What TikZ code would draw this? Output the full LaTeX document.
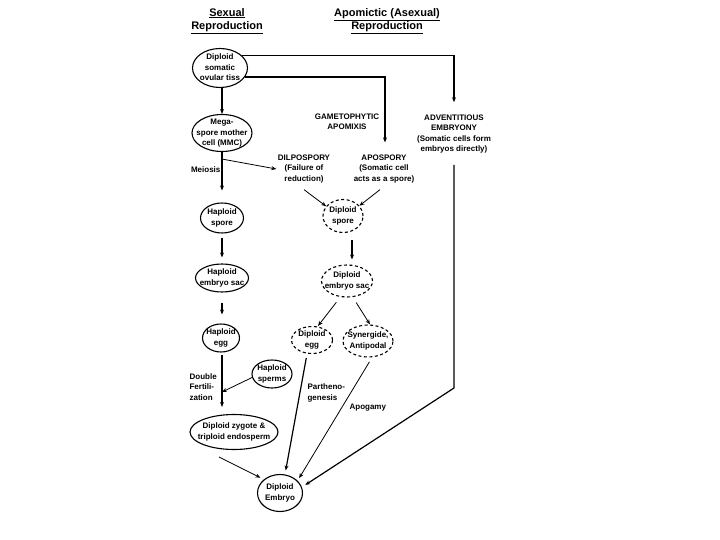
\documentclass[tikz,border=0pt]{standalone}
\usepackage{fontspec}
\setmainfont{Liberation Sans}
\usetikzlibrary{shapes.geometric}
\usetikzlibrary{arrows.meta}
\newcommand{\ovtext}[1] % lines of text set inside an oval of fixed size
{%
	\makebox[0pt]{\smash{\raisebox{-2pt}{\begin{tabular}[c]{@{}c@{}}#1\end{tabular}}}}%
}
\tikzset{
	every node/.style={font=\fontsize{8}{10.4}\selectfont\bfseries},
	oval/.style={draw, ellipse, line width=1.1pt, inner sep=0pt},
	dashoval/.style={oval, dash pattern=on 3pt off 2.5pt},
	txt/.style={align=center, inner sep=1pt},
	head/.style={align=center, inner sep=1pt, font=\fontsize{11}{13.5}\selectfont\bfseries},
	thin line/.style={line width=0.8pt},
	>={Stealth[length=5pt,width=4pt]}
}
\begin{document}
\begin{tikzpicture}[x=1pt, y=-1pt, line width=1.2pt]
	% page: 720 x 540, coordinates in pixels from the top left
	\useasboundingbox (0,0) rectangle (720,540);
	% headings
	\node[head] (hsex) at (227,21) {\underline{Sexual}\\\underline{Reproduction}};
	\node[head] (hapo) at (387,21) {\underline{Apomictic (Asexual)}\\\underline{Reproduction}};
	
	% sexual side
	\node[oval, minimum width=55, minimum height=39] (tiss) at (220,68) {\ovtext{Diploid\\somatic\\ovular tiss}};
	\node[oval, minimum width=60, minimum height=37] (mmc) at (222,133) {\ovtext{Mega-\\spore mother\\cell (MMC)}};
	\node[oval, minimum width=43, minimum height=30] (hspore) at (222,218) {\ovtext{Haploid\\spore}};
	\node[oval, minimum width=53, minimum height=28] (hsac) at (222,278) {\ovtext{Haploid\\embryo sac}};
	\node[oval, minimum width=37, minimum height=28] (hegg) at (221,338) {\ovtext{Haploid\\egg}};
	\node[oval, minimum width=40, minimum height=28] (sperms) at (272,374) {\ovtext{Haploid\\sperms}};
	\node[oval, minimum width=88, minimum height=35] (zyg) at (234,432) {\ovtext{Diploid zygote \&\\triploid endosperm}};
	\node[oval, minimum width=45, minimum height=37] (emb) at (280,493) {\ovtext{Diploid\\Embryo}};
	
	% apomictic side
	\node[dashoval, minimum width=40, minimum height=33] (dspore) at (343,216) {\ovtext{Diploid\\spore}};
	\node[dashoval, minimum width=51, minimum height=32] (dsac) at (347,281) {\ovtext{Diploid\\embryo sac}};
	\node[dashoval, minimum width=41, minimum height=27] (degg) at (312,340) {\ovtext{Diploid\\egg}};
	\node[dashoval, minimum width=50, minimum height=32] (syn) at (368,341) {\ovtext{Synergide,\\Antipodal}};
	
	% text only
	\node[txt] (gam) at (347,122) {GAMETOPHYTIC\\APOMIXIS};
	\node[txt] (adv) at (454,134) {ADVENTITIOUS\\EMBRYONY\\(Somatic cells form\\embryos directly)};
	\node[txt] (dil) at (304,169) {DILPOSPORY\\(Failure of\\reduction)};
	\node[txt] (apo) at (384,169) {APOSPORY\\(Somatic cell\\acts as a spore)};
	\node[inner sep=0pt, anchor=east] (meio) at (221,170) {Meiosis};
	\node[txt, align=left, anchor=west] (dfert) at (188,387) {Double\\Fertili-\\zation};
	\node[txt, align=left, anchor=west] (parth) at (306,393) {Partheno-\\genesis};
	\node[txt, anchor=west] (apog) at (348,408) {Apogamy};
	
	\coordinate (fert) at (222,392);
	\coordinate (bend) at (454,388);
	
	% sexual chain
	\draw[->] (tiss.south -| mmc.north) -- (mmc.north);
	\draw[->, shorten >=12pt] (mmc.south) -- (hspore.north);
	\draw[->, shorten <=4pt, shorten >=6pt] (hspore.south) -- (hsac.north);
	\draw[->, shorten <=10pt, shorten >=9pt] (hsac.south) -- (hsac.south |- hegg.north);
	\draw[->, shorten <=2pt, shorten >=7pt] (hegg.south -| hsac.south) -- (hsac.south |- zyg.north);
	\draw[->, thin line] (sperms.190) -- (fert);
	\draw[->, thin line] ([xshift=-15pt,yshift=-7pt]zyg.south) -- ([shift={(-2pt,3pt)}]emb.145);
	
	% branches to the apomictic side
	\draw[->, shorten >=11pt] (tiss.30) -| (adv.north);
	\draw[->, shorten >=11pt] (tiss.-20) -| ([xshift=1pt]apo.north);
	\draw[->, thin line] ([yshift=-7pt]mmc.south) -- (dil.west);
	\draw[->, thin line] ([yshift=-5pt]dil.south) -- (dspore.150);
	\draw[->, thin line] ([xshift=-4pt,yshift=-5pt]apo.south) -- (dspore.32);
	\draw[->, shorten <=7pt, shorten >=5pt] ([xshift=9pt]dspore.south) -- ([xshift=9pt]dspore.south |- dsac.north);
	\draw[->, thin line, shorten <=6pt] ([xshift=-7pt]dsac.south) -- ([xshift=6pt]degg.north);
	\draw[->, thin line, shorten <=6pt] ([xshift=6pt]dsac.south) -- ([xshift=2pt]syn.north);
	
	% into the embryo
	\draw[->, shorten <=4pt, shorten >=4pt] ([xshift=-5pt]degg.south) -- (emb.75);
	\draw[->, thin line, shorten <=5pt, shorten >=3pt] ([xshift=4pt]syn.south) -- (emb.35);
	\draw[->, shorten <=10pt, shorten >=4pt] (adv.south -| bend) -- (bend) -- (emb.15);
\end{tikzpicture}
\end{document}
